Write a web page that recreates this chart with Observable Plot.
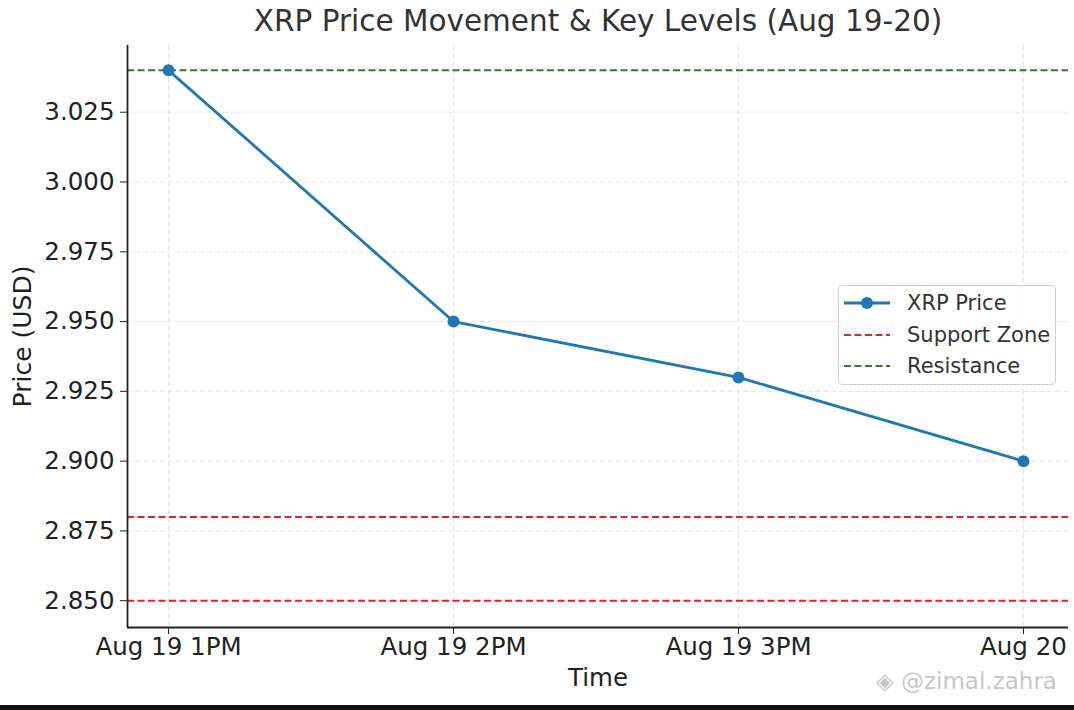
<!DOCTYPE html>
<html>
<head>
<meta charset="utf-8">
<script src="https://cdn.jsdelivr.net/npm/d3@7"></script>
<script src="https://cdn.jsdelivr.net/npm/@observablehq/plot@0.6"></script>
<style>
  html, body { margin: 0; padding: 0; background: #fff; }
  #wrap { position: relative; width: 1074px; height: 710px; overflow: hidden; font-family: "DejaVu Sans", sans-serif; }
  #bar { position: absolute; left: 0; top: 705px; width: 1074px; height: 5px; background: #111; }
  #legend { position: absolute; left: 838px; top: 285px; width: 218px; height: 100px; border: 1px solid #d0d0d0; border-radius: 4px; background: rgba(255,255,255,0.9); box-sizing: border-box; font-size: 21px; color: #333; }
  .row { position: absolute; left: 4px; height: 30px; display: flex; align-items: center; }
  .row svg { margin-right: 16px; }
  #wm { position: absolute; left: 876px; top: 668px; font-size: 23px; color: #c8c8c8; }
</style>
</head>
<body>
<div id="wrap"></div>
<script>
const times = ["Aug 19 1PM", "Aug 19 2PM", "Aug 19 3PM", "Aug 20"];
const prices = [3.04, 2.95, 2.93, 2.90];
const supportLevels = [2.88, 2.85];
const resistanceLevels = [3.04];
const yTicks = [2.850, 2.875, 2.900, 2.925, 2.950, 2.975, 3.000, 3.025];
const titleText = "XRP Price Movement & Key Levels (Aug 19-20)";
const legendLabels = ["XRP Price", "Support Zone", "Resistance"];

const data = times.map((t, i) => ({i, t, price: prices[i]}));
const blue = "#1f77b4", red = "#d62728", green = "#2a7f2a";

const chart = Plot.plot({
  width: 1074,
  height: 705,
  marginTop: 45,
  marginLeft: 127,
  marginRight: 6,
  marginBottom: 78,
  style: {fontFamily: "DejaVu Sans, sans-serif", fontSize: "24px", color: "#222", background: "#fff"},
  x: {type: "linear", domain: [-0.144, 3.158], label: null},
  y: {domain: [2.8404, 3.0489], label: null},
  marks: [
    Plot.gridX([0, 1, 2, 3], {stroke: "#ddd", strokeOpacity: 1, strokeDasharray: "5,3", strokeWidth: 0.8}),
    Plot.gridY(yTicks, {stroke: "#ddd", strokeOpacity: 1, strokeDasharray: "5,3", strokeWidth: 0.8}),
    Plot.ruleY(supportLevels, {stroke: red, strokeWidth: 2, strokeDasharray: "7,3.5"}),
    Plot.ruleY(resistanceLevels, {stroke: green, strokeWidth: 2, strokeDasharray: "7,3.5"}),
    Plot.line(data, {x: "i", y: "price", stroke: blue, strokeWidth: 2.8}),
    Plot.dot(data, {x: "i", y: "price", r: 6, fill: blue, stroke: "none"}),
    Plot.axisX({ticks: [0, 1, 2, 3], tickFormat: i => times[i], tickSize: 7, tickPadding: 3, fontSize: 24.5, label: null}),
    Plot.axisY({ticks: yTicks, tickFormat: d3.format(".3f"), tickSize: 7, tickPadding: 6, fontSize: 24.5, label: null}),
    Plot.ruleX([-0.144], {stroke: "#222", strokeWidth: 1.8}),
    Plot.ruleY([2.8404], {stroke: "#222", strokeWidth: 1.8}),
    Plot.text([titleText], {frameAnchor: "top", dy: -24, lineAnchor: "middle", fontSize: 29.5, fill: "#333", text: d => d}),
    Plot.text(["Time"], {frameAnchor: "bottom", dy: 51, lineAnchor: "middle", fontSize: 24.5, fill: "#222", text: d => d}),
    Plot.text(["Price (USD)"], {frameAnchor: "left", dx: -105, rotate: -90, textAnchor: "middle", lineAnchor: "middle", fontSize: 25, fill: "#222", text: d => d})
  ]
});

const wrap = document.getElementById("wrap");
wrap.appendChild(chart);

const legend = document.createElement("div");
legend.id = "legend";
const swatches = [
  `<svg width="48" height="14"><line x1="1" y1="7" x2="47" y2="7" stroke="${blue}" stroke-width="2.8"/><circle cx="24" cy="7" r="6" fill="${blue}"/></svg>`,
  `<svg width="48" height="14"><line x1="1" y1="7" x2="47" y2="7" stroke="${red}" stroke-width="2" stroke-dasharray="7,3.5"/></svg>`,
  `<svg width="48" height="14"><line x1="1" y1="7" x2="47" y2="7" stroke="${green}" stroke-width="2" stroke-dasharray="7,3.5"/></svg>`
];
legendLabels.forEach((lab, k) => {
  const row = document.createElement("div");
  row.className = "row";
  row.style.top = (2 + k * 31.5) + "px";
  row.innerHTML = swatches[k] + `<span>${lab}</span>`;
  legend.appendChild(row);
});
wrap.appendChild(legend);

const wm = document.createElement("div");
wm.id = "wm";
wm.textContent = "◈ @zimal.zahra";
wrap.appendChild(wm);

const bar = document.createElement("div");
bar.id = "bar";
wrap.appendChild(bar);
</script>
</body>
</html>
